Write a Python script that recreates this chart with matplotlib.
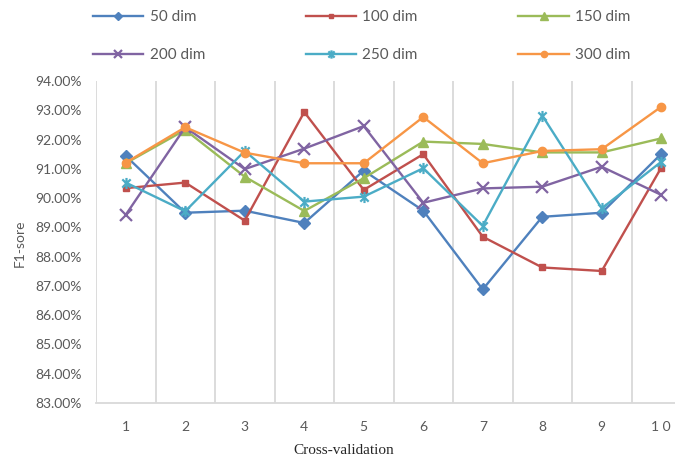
import matplotlib
matplotlib.use("Agg")
import matplotlib.pyplot as plt
from matplotlib.path import Path
from matplotlib.ticker import FixedLocator, FuncFormatter

folds = [1, 2, 3, 4, 5, 6, 7, 8, 9, 10]
fold_labels = ["1", "2", "3", "4", "5", "6", "7", "8", "9", "1 0"]
series_names = ["50 dim", "100 dim", "150 dim", "200 dim", "250 dim", "300 dim"]

dim50 = [91.44, 89.50, 89.57, 89.15, 90.94, 89.57, 86.88, 89.36, 89.50, 91.51]
dim100 = [90.34, 90.53, 89.23, 92.94, 90.28, 91.50, 88.68, 87.63, 87.51, 91.04]
dim150 = [91.19, 92.33, 90.73, 89.56, 90.68, 91.93, 91.85, 91.56, 91.56, 92.04]
dim200 = [89.43, 92.42, 90.99, 91.69, 92.46, 89.84, 90.33, 90.39, 91.07, 90.11]
dim250 = [90.53, 89.55, 91.61, 89.88, 90.05, 91.02, 89.05, 92.82, 89.65, 91.24]
dim300 = [91.21, 92.42, 91.55, 91.19, 91.19, 92.77, 91.19, 91.61, 91.67, 93.12]

y_ticks = [83, 84, 85, 86, 87, 88, 89, 90, 91, 92, 93, 94]

all_series = [dim50, dim100, dim150, dim200, dim250, dim300]
colors = ["#4F81BD", "#C0504D", "#9BBB59", "#8064A2", "#4BACC6", "#F79646"]

star = Path([(0, -1), (0, 1), (-0.75, -0.75), (0.75, 0.75), (-0.75, 0.75), (0.75, -0.75)],
            [Path.MOVETO, Path.LINETO, Path.MOVETO, Path.LINETO, Path.MOVETO, Path.LINETO])
markers = ["D", "s", "^", "x", star, "o"]
msizes = [6, 4.5, 7, 8, 8, 6]

plt.rcParams['font.family'] = ['Lato', 'DejaVu Sans']

W, H = 675, 458
fig = plt.figure(figsize=(W / 100, H / 100), dpi=100)
ax = fig.add_axes([96 / W, 1 - 403 / H, 595 / W, 322 / H])

handles = []
for vals, name, c, m, ms in zip(all_series, series_names, colors, markers, msizes):
    ln, = ax.plot(folds, vals, color=c, lw=1.7, marker=m, markersize=ms,
                  markerfacecolor=c, markeredgecolor=c,
                  markeredgewidth=1.6 if (m == "x" or m is star) else 1.0,
                  label=name, clip_on=False)
    handles.append(ln)

ax.set_xlim(0.5, 10.5)
ax.set_ylim(83, 94)
ax.xaxis.set_major_locator(FixedLocator(folds))
ax.set_xticklabels(fold_labels)
ax.xaxis.set_minor_locator(FixedLocator([i + 0.5 for i in range(0, 11)]))
ax.yaxis.set_major_locator(FixedLocator(y_ticks))
ax.yaxis.set_major_formatter(FuncFormatter(lambda v, p: f"{v:.2f}%"))
ax.grid(False)
ax.grid(True, which="minor", axis="x", color="#D9D9D9", lw=1.3)
ax.set_axisbelow(True)
for s in ["left", "right", "top"]:
    ax.spines[s].set_visible(False)
ax.spines["bottom"].set_color("#D9D9D9")
ax.spines["bottom"].set_linewidth(1.3)
ax.tick_params(axis="both", which="both", length=0)
ax.tick_params(axis="y", pad=10, labelsize=10, labelcolor="#595959")
ax.tick_params(axis="x", pad=13, labelsize=10, labelcolor="#595959")

fig.text(20 / W, 1 - 243 / H, "F1-sore", rotation=90, ha="center", va="center",
         fontsize=10, color="#595959")
fig.text(344 / W, 1 - 450 / H, "Cross-validation", ha="center", va="center",
         fontsize=11, color="#262626", family=["Liberation Serif", "DejaVu Serif"])

order = [0, 3, 1, 4, 2, 5]
leg = fig.legend([handles[i] for i in order], [series_names[i] for i in order],
                 ncol=3, loc="upper left", bbox_to_anchor=(93 / W, 1 - 10 / H),
                 frameon=False, fontsize=11, handlelength=3.3, handletextpad=0.4,
                 columnspacing=6.6, labelspacing=1.6, borderpad=0, borderaxespad=0,
                 markerscale=0.75)
for t in leg.get_texts():
    t.set_color("#595959")

fig.savefig("out.png", dpi=100)
